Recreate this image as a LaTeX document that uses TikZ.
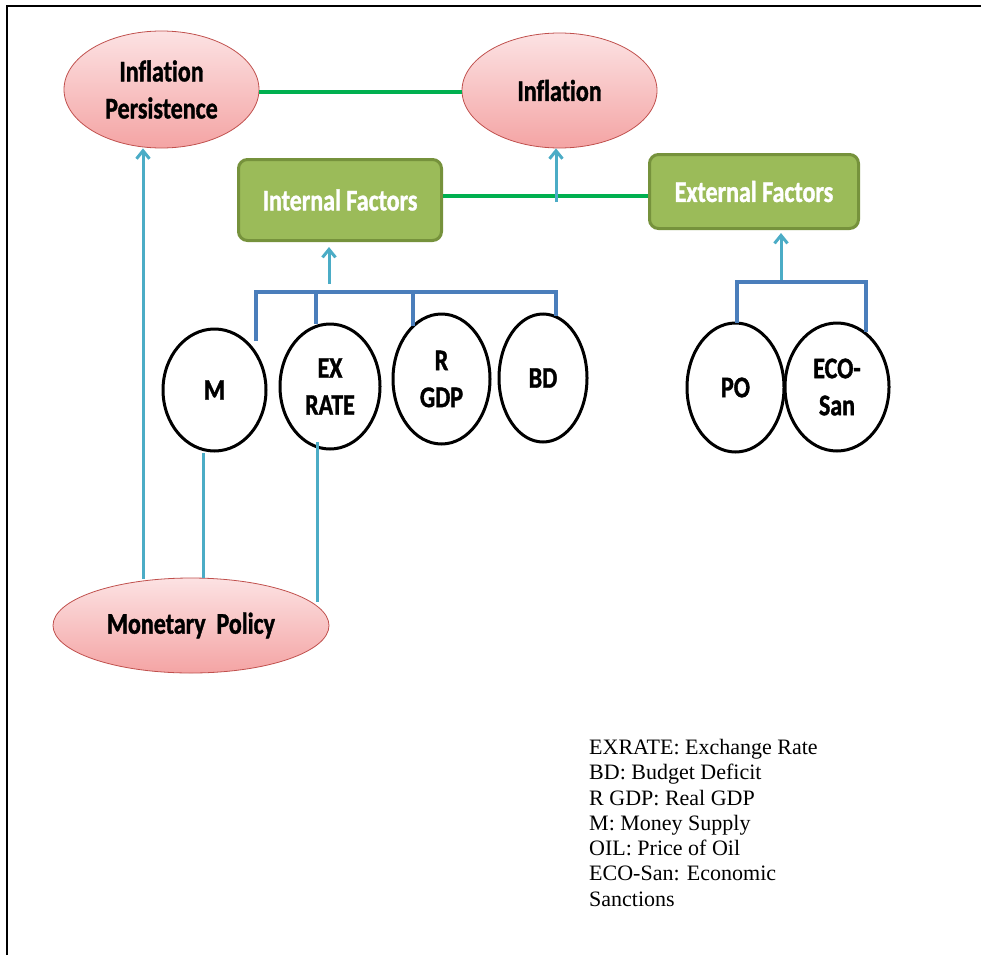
\documentclass[tikz,border=0pt]{standalone}
\usepackage{fontspec}
\setmainfont{Liberation Serif}
\newfontfamily\calb[FakeStretch=0.8,FakeBold=1.2,Ligatures=NoCommon]{Carlito}
\usetikzlibrary{shapes.geometric,arrows.meta}
\definecolor{pinkT}{RGB}{252,226,227}
\definecolor{pinkD}{RGB}{244,164,164}
\definecolor{pinkB}{RGB}{192,80,77}
\definecolor{boxF}{RGB}{155,187,89}
\definecolor{boxB}{RGB}{118,146,60}
\definecolor{linkG}{RGB}{0,176,80}
\definecolor{arrB}{RGB}{75,172,198}
\definecolor{brB}{RGB}{74,126,187}
\begin{document}
\begin{tikzpicture}[x=1pt,y=-1pt,
  lab/.style={font=\calb\bfseries\fontsize{30}{37}\selectfont, align=center},
  pinkell/.style={ellipse, draw=pinkB, line width=0.8pt, top color=pinkT, bottom color=pinkD, inner sep=0pt, lab},
  circell/.style={ellipse, draw=black, line width=3pt, fill=white, inner sep=0pt, lab},
  factor/.style={rectangle, rounded corners=9pt, draw=boxB, line width=3pt, fill=boxF, text=white, inner sep=0pt, lab},
  glink/.style={draw=linkG, line width=4pt},
  barrow/.style={draw=arrB, line width=3pt, -{Straight Barb[length=8pt,width=13pt]}},
  bline/.style={draw=arrB, line width=3pt},
  brack/.style={draw=brB, line width=3.3pt},
  legend/.style={font=\fontsize{22}{25.3}\selectfont, align=left, inner sep=0pt, anchor=north west}
]
\useasboundingbox (0,0) rectangle (981,955);
\draw[line width=2pt] (7,955) -- (7,6) -- (981,6);

% nodes
\node[pinkell, minimum width=195pt, minimum height=117pt] (IP) at (161.5,89.5) {Inflation\\Persistence};
\node[pinkell, minimum width=195pt, minimum height=115pt] (Inf) at (559.5,90.5) {Inflation};
\node[factor, minimum width=203pt, minimum height=81pt] (IF) at (340,200) {Internal Factors};
\node[factor, minimum width=209pt, minimum height=74pt] (EF) at (754,191.5) {External Factors};
\node[circell, minimum width=103pt, minimum height=122pt] (M) at (214.5,390) {M};
\node[circell, minimum width=100pt, minimum height=125pt] (EX) at (330,386.5) {EX\\RATE};
\node[circell, minimum width=97pt, minimum height=130pt] (RG) at (441.5,379) {R\\GDP};
\node[circell, minimum width=88pt, minimum height=128pt] (BD) at (543,378) {BD};
\node[circell, minimum width=97pt, minimum height=129pt] (PO) at (735.5,387.5) {PO};
\node[circell, minimum width=104pt, minimum height=128pt] (ECO) at (837,387) {ECO-\\San};
\node[pinkell, minimum width=276pt, minimum height=95pt] (MP) at (191,625.5) {Monetary\ \ Policy};

% green links
\draw[glink] (IP.east |- 0,92) -- (Inf.west |- 0,92);
\draw[glink] (IF.east |- 0,196) -- (EF.west |- 0,196);

% coordinates
\coordinate (mp1) at (143,579);
\coordinate (mp2) at (203,578);
\coordinate (mp3) at (317,602);
\coordinate (g1) at (556,202);
\coordinate (ib) at (329,284);
\coordinate (eb) at (781,282);
\coordinate (bL) at (256,292);
\coordinate (bR) at (558,292);
\coordinate (eL) at (737,282);
\coordinate (eR) at (866,282);

% blue arrows and lines
\draw[barrow] (mp1) -- (mp1 |- IP.south);
\draw[bline] (mp2) -- (203,453);
\draw[bline] (mp3) -- (317,442);
\draw[barrow] (g1) -- (g1 |- Inf.south);
\draw[barrow] (ib) -- (329,247);
\draw[barrow] (eb) -- (781,233);

% brackets
\draw[brack] (256,341) -- (bL) -- (bR);
\draw[brack] (316,292) -- (316,324);
\draw[brack] (413,292) -- (413,326);
\draw[brack] (556,292) -- (556,316);
\draw[brack] (737,323) -- (eL) -- (eR) -- (866,332);

% legend
\node[legend] (leg) at (589,739) {EXRATE: Exchange Rate\\BD: Budget Deficit\\R GDP: Real GDP\\M: Money Supply\\OIL: Price of Oil\\ECO-San: Economic\\Sanctions};
\end{tikzpicture}
\end{document}
